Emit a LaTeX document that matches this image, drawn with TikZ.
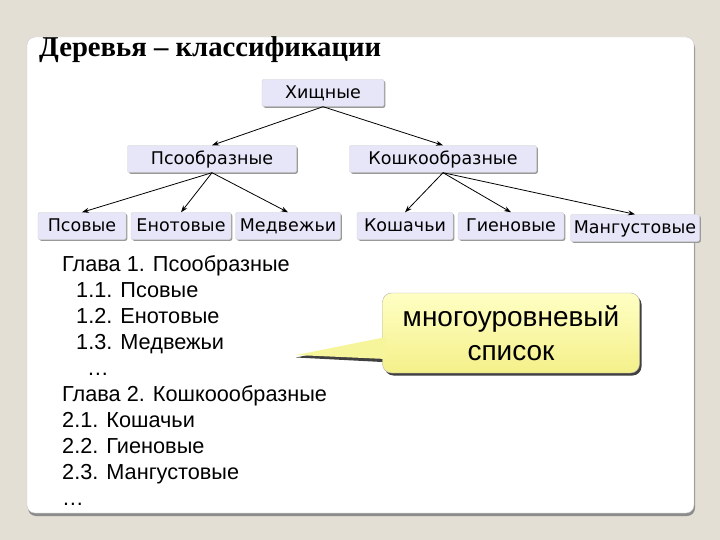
\documentclass[tikz,border=0pt]{standalone}
\usepackage{fontspec}
\setmainfont{Liberation Serif}
\newfontfamily\boxfont{DejaVu Sans}
\newfontfamily\listfont{Liberation Sans}
\usetikzlibrary{arrows.meta, shadows}
\definecolor{pagebg}{HTML}{E4DFD4}
\definecolor{boxfill}{HTML}{E6E6F8}
\definecolor{notetop}{HTML}{FFFFC4}
\definecolor{notebot}{HTML}{F4F08A}

\begin{document}
\begin{tikzpicture}[x=1pt, y=-1pt,
  taxon/.style={rectangle, rounded corners=2pt, fill=boxfill, draw=gray!35,
    drop shadow={shadow xshift=1.3pt, shadow yshift=-1.3pt, fill=gray!80, opacity=1},
    font=\boxfont\fontsize{17.5}{20}\selectfont, minimum height=27pt, inner sep=0pt,
    text height=14pt, text depth=3pt},
  edge/.style={-{Stealth[length=7pt, width=5pt]}, line width=0.8pt},
  entry/.style={anchor=base west, inner sep=0pt, font=\listfont\fontsize{21.7}{24}\selectfont}]
  \useasboundingbox (0,0) rectangle (720,540);
  \fill[pagebg] (0,0) rectangle (720,540);
  \filldraw[white, draw=gray!40, rounded corners=8pt,
    drop shadow={shadow xshift=1pt, shadow yshift=-3pt, fill=black!45, opacity=1}]
    (27,37) rectangle (694,513);
  \node[anchor=base west, inner sep=0pt, font=\bfseries\fontsize{28.7}{32}\selectfont]
    (title) at (39,57) {Деревья – классификации};

  % tree
  \node[taxon, minimum width=122pt] (pred) at (323,93) {Хищные};
  \node[taxon, minimum width=169pt] (canif) at (212,159) {Псообразные};
  \node[taxon, minimum width=187pt] (felif) at (443,159) {Кошкообразные};
  \node[taxon, minimum width=88pt] (canid) at (82,226) {Псовые};
  \node[taxon, minimum width=100pt] (procy) at (181,226) {Енотовые};
  \node[taxon, minimum width=105pt] (ursid) at (288,226) {Медвежьи};
  \node[taxon, minimum width=96pt] (felid) at (405,226) {Кошачьи};
  \node[taxon, minimum width=106pt] (hyaen) at (511,226) {Гиеновые};
  \node[taxon, minimum width=129pt] (herps) at (635,228) {Мангустовые};
  \foreach \a/\b in {pred/canif, pred/felif, canif/canid, canif/procy, canif/ursid,
                     felif/felid, felif/hyaen, felif/herps}
    \draw[edge] (\a.south) -- (\b.north);

  % list
  \foreach \dx/\txt [count=\i from 0] in {0/Глава 1. Псообразные, 14/1.1. Псовые,
      14/1.2. Енотовые, 14/1.3. Медвежьи, 25/…, 0/Глава 2. Кошкоообразные,
      0/2.1. Кошачьи, 0/2.2. Гиеновые, 0/2.3. Мангустовые, 0/…}
    \node[entry] (item\i) at (62+\dx, 271+26*\i) {\txt};

  % callout
  \node[rounded corners=9pt, top color=notetop, bottom color=notebot, draw=gray!60,
    drop shadow={shadow xshift=2pt, shadow yshift=-2.5pt, fill=black!75, opacity=1},
    minimum width=257pt, minimum height=80pt, align=center,
    font=\listfont\fontsize{28}{34}\selectfont] (note) at (511,333)
    {многоуровневый\\список};
  \coordinate (tip) at (296,355);
  \fill[black!75] ([yshift=-7pt]note.west) -- ([yshift=-2.5pt]tip)
    -- ([yshift=-29pt]note.west) -- cycle;
  \fill[notebot!70!notetop] ([xshift=4pt, yshift=-4pt]note.west) -- (tip)
    -- ([xshift=4pt, yshift=-26pt]note.west) -- cycle;
\end{tikzpicture}
\end{document}
